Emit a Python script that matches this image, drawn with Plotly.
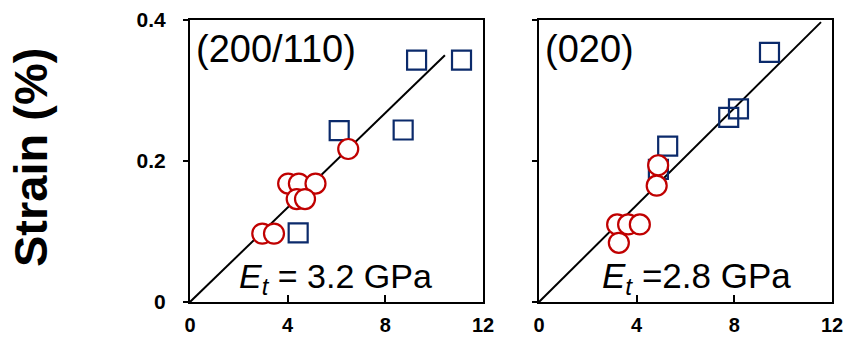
import plotly.graph_objects as go

# Panel (200/110)
l_circ_x = [2.96, 3.44, 4.02, 4.46, 5.14, 4.37, 4.71, 6.48]
l_circ_y = [0.097, 0.097, 0.168, 0.168, 0.168, 0.146, 0.146, 0.217]
l_sq_x = [4.43, 6.11, 8.73, 9.28, 11.12]
l_sq_y = [0.098, 0.243, 0.244, 0.343, 0.343]
l_fit_x = [0, 10.44]
l_fit_y = [0, 0.35]

# Panel (020)
r_circ_x = [4.88, 4.82, 3.20, 3.65, 4.13, 3.27]
r_circ_y = [0.194, 0.165, 0.110, 0.110, 0.110, 0.084]
r_sq_x = [4.89, 5.27, 7.77, 8.17, 9.44]
r_sq_y = [0.188, 0.221, 0.262, 0.274, 0.354]
r_fit_x = [0, 11.55]
r_fit_y = [0, 0.397]

x_ticks = [0, 4, 8, 12]
x_tick_text = ["<b>0</b>", "<b>4</b>", "<b>8</b>", "<b>12</b>"]
y_ticks = [0, 0.2, 0.4]
y_tick_text = ["<b>0</b>", "<b>0.2</b>", "<b>0.4</b>"]

RED = "#C00000"
NAVY = "#0B2A6B"
FONT = "Liberation Sans, Arial, sans-serif"

fig = go.Figure()

def add_panel(xa, ya, cx, cy, sx, sy, fx, fy):
    fig.add_trace(go.Scatter(x=fx, y=fy, mode="lines", line=dict(color="black", width=2),
                             xaxis=xa, yaxis=ya, showlegend=False, hoverinfo="skip"))
    fig.add_trace(go.Scatter(x=sx, y=sy, mode="markers",
                             marker=dict(symbol="square-open", size=19, color=NAVY, line=dict(width=2.2, color=NAVY)),
                             xaxis=xa, yaxis=ya, showlegend=False, cliponaxis=False))
    fig.add_trace(go.Scatter(x=cx, y=cy, mode="markers",
                             marker=dict(symbol="circle", size=20, color="white", line=dict(width=2.2, color=RED)),
                             xaxis=xa, yaxis=ya, showlegend=False, cliponaxis=False))

add_panel("x", "y", l_circ_x, l_circ_y, l_sq_x, l_sq_y, l_fit_x, l_fit_y)
add_panel("x2", "y2", r_circ_x, r_circ_y, r_sq_x, r_sq_y, r_fit_x, r_fit_y)

ydom = [1 - 302/337, 1 - 20/337]
xcommon = dict(range=[0, 12], tickvals=x_ticks, ticktext=x_tick_text, ticks="inside", ticklen=7,
               tickwidth=1.5, tickcolor="black", showline=True, linecolor="black", linewidth=2,
               mirror=True, showgrid=False, zeroline=False, automargin=False, ticklabelstandoff=4,
               tickfont=dict(family=FONT, size=20, color="black"))
ycommon = dict(range=[0, 0.4], tickvals=y_ticks, ticktext=y_tick_text, ticks="outside", ticklen=5,
               tickwidth=1.5, tickcolor="black", showline=True, linecolor="black", linewidth=2,
               mirror=True, showgrid=False, zeroline=False, automargin=False, ticklabelstandoff=13,
               tickfont=dict(family=FONT, size=21, color="black"))

fig.update_layout(
    width=848, height=337, margin=dict(l=0, r=0, t=0, b=0, autoexpand=False),
    paper_bgcolor="white", plot_bgcolor="white",
    xaxis=dict(domain=[190/848, 483/848], anchor="y", **xcommon),
    yaxis=dict(domain=ydom, anchor="x", **ycommon),
    xaxis2=dict(domain=[539/848, 832/848], anchor="y2", **xcommon),
    yaxis2=dict(domain=ydom, anchor="x2", showticklabels=False, **ycommon),
    annotations=[
        dict(text="(200/110)", x=0.15, y=0.392, xref="x", yref="y", xanchor="left", yanchor="top",
             showarrow=False, font=dict(family=FONT, size=38, color="black")),
        dict(text="(020)", x=0.15, y=0.392, xref="x2", yref="y2", xanchor="left", yanchor="top",
             showarrow=False, font=dict(family=FONT, size=38, color="black")),
        dict(text="<i>E<sub>t</sub></i> = 3.2 GPa", x=5.95, y=0.0, xref="x", yref="y",
             xanchor="center", yanchor="bottom", showarrow=False,
             font=dict(family=FONT, size=34, color="black")),
        dict(text="<i>E<sub>t</sub></i> =2.8 GPa", x=6.45, y=0.0, xref="x2", yref="y2",
             xanchor="center", yanchor="bottom", showarrow=False,
             font=dict(family=FONT, size=35, color="black")),
        dict(text="<b>Strain (%)</b>", x=30/848, y=1 - 158/337, xref="paper", yref="paper",
             textangle=-90, showarrow=False, xanchor="center", yanchor="middle",
             font=dict(family=FONT, size=47, color="black")),
    ],
)

fig.write_html("out.html")
